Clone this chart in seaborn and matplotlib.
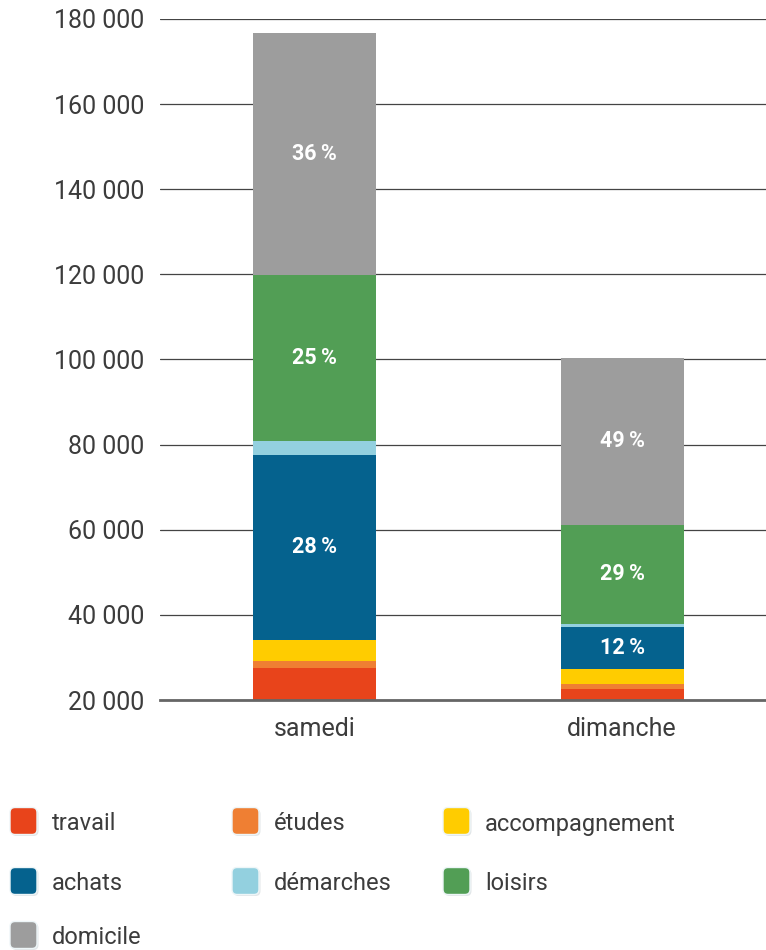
import numpy as np
import matplotlib
matplotlib.use("Agg")
import matplotlib.pyplot as plt
import seaborn as sns
from matplotlib.patches import FancyBboxPatch

# data (thousands of trips, stacked from the 20 000 baseline)
days = ["samedi", "dimanche"]
motifs = ["travail", "études", "accompagnement", "achats", "démarches", "loisirs", "domicile"]
travail = [7.6, 2.5]
etudes = [1.6, 1.25]
accompagnement = [4.85, 3.55]
achats = [43.6, 9.8]
demarches = [3.3, 0.78]
loisirs = [38.95, 23.27]
domicile = [56.8, 39.2]
pct_labels = {"achats": ["28 %", "12 %"], "loisirs": ["25 %", "29 %"], "domicile": ["36 %", "49 %"]}
yticks = [20000, 40000, 60000, 80000, 100000, 120000, 140000, 160000, 180000]
baseline = 20000

colors = ["#E8441B", "#EF7F33", "#FFCC00", "#05628E", "#93D0DF", "#529E55", "#9D9D9D"]
series = [travail, etudes, accompagnement, achats, demarches, loisirs, domicile]

sns.set_theme(style="white")
plt.rcParams["font.family"] = ["Roboto", "DejaVu Sans"]
txt = "#3c3c3c"

fig = plt.figure(figsize=(7.66, 9.5), dpi=100)
ax = fig.add_axes([160 / 766, 1 - 700 / 950, 1 - 160 / 766, (700 - 19) / 950])

bottom = np.full(len(days), float(baseline))
for name, vals, c in zip(motifs, series, colors):
    h = np.array(vals) * 1000
    sns.barplot(x=days, y=h, bottom=bottom, color=c, saturation=1, width=0.4,
                linewidth=0, ax=ax, zorder=3)
    if name in pct_labels:
        for i, lab in enumerate(pct_labels[name]):
            ax.text(i, bottom[i] + h[i] / 2, lab.replace(" ", "\u2009"), color="white",
                    ha="center", va="center", fontsize=15.5, fontweight="semibold", zorder=4)
    bottom = bottom + h

ax.set_xlim(-0.502, 1.468)
ax.set_ylim(20000, 180000)
ax.set_yticks(yticks)
ax.set_yticklabels([f"{v:,}".replace(",", " ") for v in yticks])
ax.set_xlabel("")
ax.set_ylabel("")
ax.grid(axis="y", color="#444444", linewidth=0.9, zorder=0)
ax.set_axisbelow(True)
for s in ["top", "right", "left"]:
    ax.spines[s].set_visible(False)
ax.spines["bottom"].set_color("#666666")
ax.spines["bottom"].set_linewidth(2)
ax.spines["bottom"].set_zorder(5)
ax.tick_params(axis="y", length=0, pad=11, labelsize=18, labelcolor=txt)
ax.tick_params(axis="x", length=0, pad=12, labelsize=18, labelcolor=txt)

# legend: rounded swatches laid out in a 3-column grid
col_x = [10, 232, 443]
row_y = [821, 881, 935]
for k, (name, c) in enumerate(zip(motifs, colors)):
    r, col = divmod(k, 3)
    x0 = col_x[col]
    yc = row_y[r]
    sz = 27
    shadow = FancyBboxPatch(((x0 + 1.5) / 100, (950 - yc - sz / 2 - 1.5) / 100), sz / 100, sz / 100,
                            boxstyle="round,pad=0,rounding_size=0.05", transform=fig.dpi_scale_trans,
                            facecolor="#e2e6e8", edgecolor="none")
    fig.add_artist(shadow)
    sw = FancyBboxPatch((x0 / 100, (950 - yc - sz / 2) / 100), sz / 100, sz / 100,
                        boxstyle="round,pad=0,rounding_size=0.05", transform=fig.dpi_scale_trans,
                        facecolor=c, edgecolor="#eef6f8", linewidth=1)
    fig.add_artist(sw)
    fig.text((x0 + sz + 15) / 766, 1 - (yc + 3) / 950, name, ha="left", va="center",
             fontsize=17, color=txt)

fig.savefig("out.png", dpi=100, facecolor="white")
